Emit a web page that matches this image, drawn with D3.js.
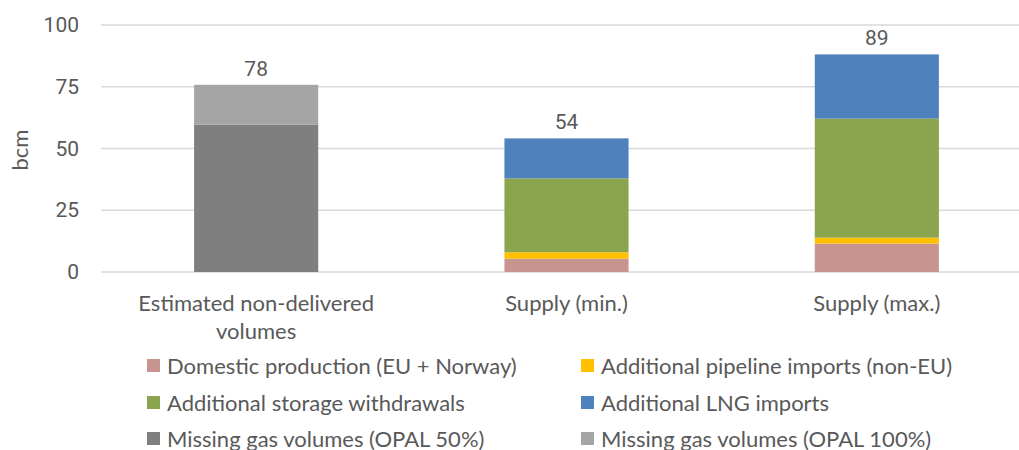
<!DOCTYPE html>
<html>
<head>
<meta charset="utf-8">
<script src="https://cdn.jsdelivr.net/npm/d3@7"></script>
<style>
  body { margin: 0; background: #fff; }
  text { fill: #595959; }
</style>
</head>
<body>
<div class="chart"></div>
<script>
// Data
var categories = ["Estimated non-delivered volumes", "Supply (min.)", "Supply (max.)"];
var categoryLines = [["Estimated non-delivered", "volumes"], ["Supply (min.)"], ["Supply (max.)"]];
var seriesNames = [
  "Domestic production (EU + Norway)",
  "Additional pipeline imports (non-EU)",
  "Additional storage withdrawals",
  "Additional LNG imports",
  "Missing gas volumes (OPAL 50%)",
  "Missing gas volumes (OPAL 100%)"
];
var seriesColors = ["#c89490", "#ffc000", "#8aa54e", "#4f81bd", "#7f7f7f", "#a5a5a5"];
var domestic = [0, 5.4, 11.5];
var pipeline = [0, 2.6, 2.4];
var storage = [0, 29.9, 48.2];
var lng = [0, 16.2, 26.0];
var opal50 = [59.6, 0, 0];
var opal100 = [16.2, 0, 0];
var totalLabels = ["78", "54", "89"];
var yTicks = [0, 25, 50, 75, 100];

var seriesValues = [domestic, pipeline, storage, lng, opal50, opal100];

var svgWidth = 1019;
var svgHeight = 450;
var margin = { top: 25, left: 101, bottom: 178 };
var plotRight = 1032;

var svg = d3.select(".chart")
  .append("svg")
  .attr("width", svgWidth)
  .attr("height", svgHeight)
  .style("font-family", "Lato, 'Open Sans', sans-serif");

var x = d3.scaleBand().domain(categories).range([margin.left, plotRight]).paddingInner(0.6).paddingOuter(0.3);
var y = d3.scaleLinear().domain([0, 100]).range([svgHeight - margin.bottom, margin.top]);

// Gridlines
svg.append("g")
  .selectAll("line")
  .data(yTicks)
  .enter()
  .append("line")
  .attr("x1", margin.left)
  .attr("x2", plotRight)
  .attr("y1", function(d) { return y(d); })
  .attr("y2", function(d) { return y(d); })
  .attr("stroke", "#d9d9d9")
  .attr("stroke-width", 1.3);

// Y axis labels
var leftAxis = d3.axisLeft(y).tickValues(yTicks).tickSize(0).tickPadding(0);
var yAxis = svg.append("g")
  .attr("transform", "translate(79,0)")
  .call(leftAxis);
yAxis.select(".domain").remove();
yAxis.selectAll("text")
  .style("font-family", "Roboto, sans-serif")
  .style("font-size", "21px")
  .attr("fill", "#595959");

// Stacked bars
var rows = categories.map(function(c, i) {
  var row = { category: c };
  seriesNames.forEach(function(s, j) { row[s] = seriesValues[j][i]; });
  return row;
});
var stack = d3.stack().keys(seriesNames);
var layers = stack(rows);

svg.append("g")
  .selectAll("g")
  .data(layers)
  .enter()
  .append("g")
  .attr("fill", function(d, i) { return seriesColors[i]; })
  .selectAll("rect")
  .data(function(d) { return d.filter(function(p) { return p[1] - p[0] > 0; }); })
  .enter()
  .append("rect")
  .attr("x", function(d) { return x(d.data.category); })
  .attr("width", x.bandwidth())
  .attr("y", function(d) { return y(d[1]); })
  .attr("height", function(d) { return y(d[0]) - y(d[1]); });

// Total labels
svg.append("g")
  .selectAll("text")
  .data(rows)
  .enter()
  .append("text")
  .attr("x", function(d) { return x(d.category) + x.bandwidth() / 2; })
  .attr("y", function(d) {
    var total = d3.sum(seriesNames, function(s) { return d[s]; });
    return y(total) - 9;
  })
  .attr("text-anchor", "middle")
  .style("font-family", "Roboto, sans-serif")
  .style("font-size", "21px")
  .text(function(d, i) { return totalLabels[i]; });

// Category labels
var catG = svg.append("g")
  .selectAll("text")
  .data(categories)
  .enter()
  .append("text")
  .attr("x", function(d) { return x(d) + x.bandwidth() / 2; })
  .attr("y", 311)
  .attr("text-anchor", "middle")
  .style("font-size", "22px");
catG.selectAll("tspan")
  .data(function(d, i) { return categoryLines[i]; })
  .enter()
  .append("tspan")
  .attr("x", function() { return d3.select(this.parentNode).attr("x"); })
  .attr("dy", function(d, i) { return i === 0 ? 0 : 28; })
  .text(function(d) { return d; });

// Y axis title
svg.append("text")
  .attr("transform", "translate(28,150) rotate(-90)")
  .attr("text-anchor", "middle")
  .style("font-size", "22px")
  .text("bcm");

// Legend
var legendX = [147, 581];
var legendY = [366, 403, 439];
var legend = svg.append("g")
  .selectAll("g")
  .data(seriesNames)
  .enter()
  .append("g")
  .attr("transform", function(d, i) {
    return "translate(" + legendX[i % 2] + "," + legendY[Math.floor(i / 2)] + ")";
  });
legend.append("rect")
  .attr("x", 0)
  .attr("y", -7)
  .attr("width", 13)
  .attr("height", 13)
  .attr("fill", function(d, i) { return seriesColors[i]; });
legend.append("text")
  .attr("x", 20)
  .attr("y", 8)
  .style("font-size", "22px")
  .text(function(d) { return d; });
</script>
</body>
</html>
